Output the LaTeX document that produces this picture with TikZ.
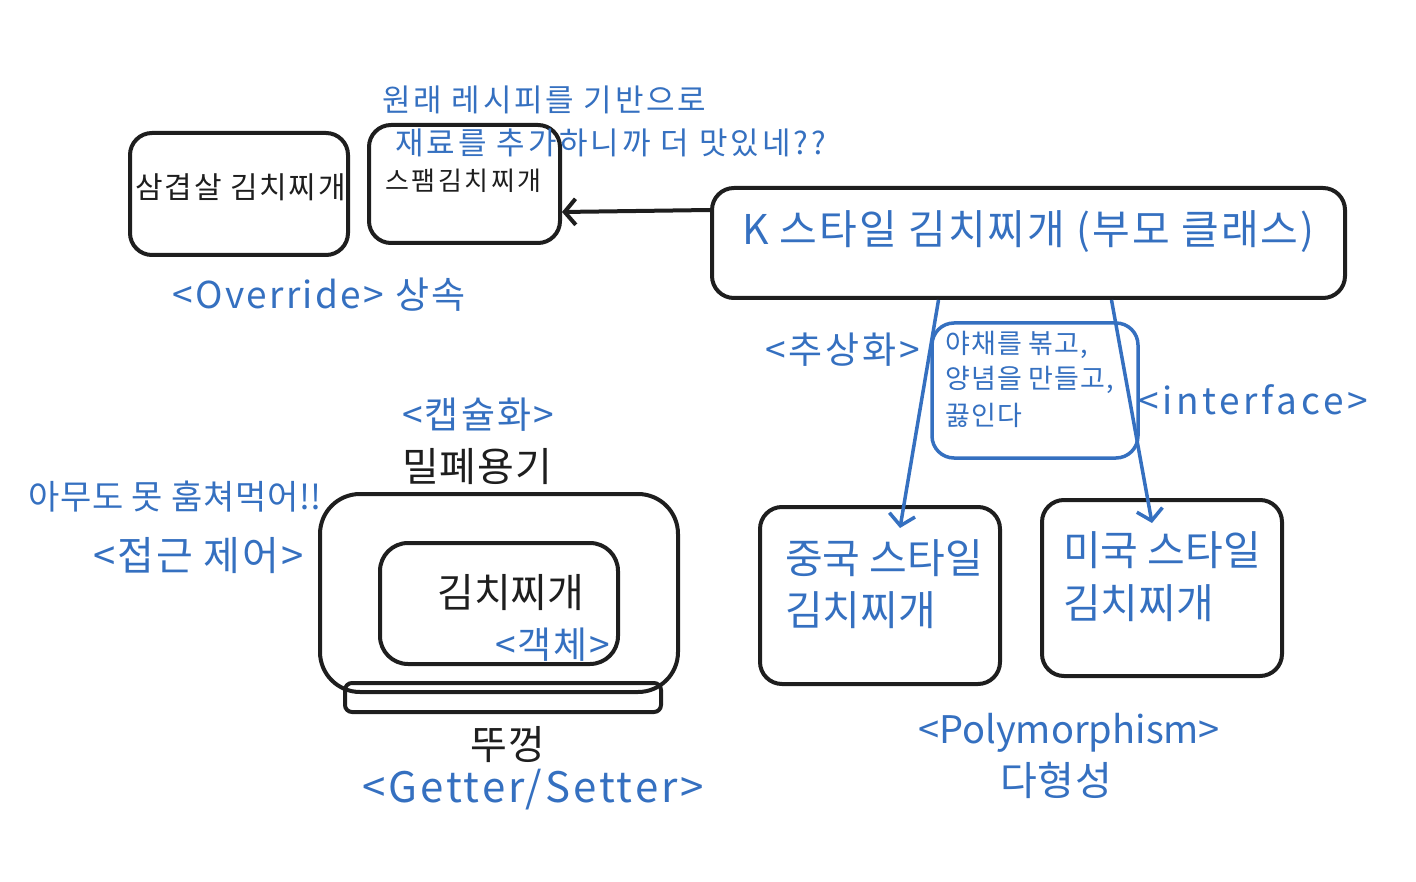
\documentclass[tikz,border=0pt]{standalone}
\usepackage{fontspec}
\setmainfont{Noto Sans CJK KR}
\usetikzlibrary{arrows.meta}
\definecolor{ink}{RGB}{30,30,30}
\definecolor{blu}{RGB}{53,112,192}
\begin{document}
\begin{tikzpicture}[x=1pt,y=-1pt,
 box/.style={draw=ink, line width=4pt, rounded corners=22pt, inner sep=0},
 bbox/.style={draw=blu, line width=3.5pt, rounded corners=22pt, inner sep=0},
 lbl/.style={inner sep=0, anchor=west, text=blu},
 blk/.style={inner sep=0, anchor=west, text=ink},
 fs/.style 2 args={font=\fontsize{#1}{#1}\selectfont\addfontfeature{LetterSpace=#2}},
 barb/.style={-{Straight Barb[length=11pt,width=26pt]}}]
\useasboundingbox (0,0) rectangle (1416,882);
% boxes
\node[box, minimum width=218pt, minimum height=122pt] (sam) at (239,194) {};
\node[box, minimum width=191pt, minimum height=118pt] (spam) at (464.5,184) {};
\node[box, minimum width=633pt, minimum height=110pt] (kbox) at (1028.5,243) {};
\node[bbox, minimum width=206pt, minimum height=135pt] (proc) at (1035,390.5) {};
\node[box, minimum width=240pt, minimum height=177pt] (cn) at (880,595.5) {};
\node[box, minimum width=240pt, minimum height=176pt] (mi) at (1162,588) {};
\node[box, minimum width=358pt, minimum height=198pt, rounded corners=40pt] (outer) at (499,593) {};
\node[box, minimum width=238pt, minimum height=121pt, rounded corners=28pt] (inner) at (499,603.5) {};
\node[box, minimum width=316pt, minimum height=29pt, rounded corners=7pt] (lid) at (503,697.5) {};
% connectors
\draw[ink, line width=4pt, barb] ([yshift=33pt]kbox.west) -- ([yshift=-28pt]spam.east);
\draw[blu, line width=3.5pt, barb] ([xshift=-90pt]kbox.south) -- ([xshift=20pt,yshift=-23pt]cn.north);
\draw[blu, line width=3.5pt, barb] ([xshift=83pt]kbox.south) -- ([xshift=-10pt,yshift=-25pt]mi.north);
% texts
\node[blk, fs={30}{6}] (t1) at (135,187) {삼겹살 김치찌개};
\node[blk, fs={26}{10}] (t2) at (385,181) {스팸김치찌개};
\node[lbl, fs={31}{9}] (t3) at (382,100) {원래 레시피를 기반으로};
\node[lbl, fs={31}{9.5}] (t4) at (395,143) {재료를 추가하니까 더 맛있네??};
\node[lbl, fs={41}{5}] (t5) at (742,232) {K 스타일 김치찌개 (부모 클래스)};
\node[lbl, fs={37}{6.5}] (t6) at (172,295) {<Override> 상속};
\node[lbl, fs={37}{8}] (t7) at (765,350) {<추상화>};
\node[lbl, fs={27}{4}] (t8) at (945,345) {야채를 볶고,};
\node[lbl, fs={27}{4}] (t9) at (945,380) {양념을 만들고,};
\node[lbl, fs={27}{4}] (t10) at (945,415) {끓인다};
\node[lbl, fs={37}{10}] (t11) at (1138,400) {<interface>};
\node[lbl, fs={41}{0}] (t12) at (785,558) {중국 스타일};
\node[lbl, fs={41}{0}] (t13) at (785,610) {김치찌개};
\node[lbl, fs={41}{0}] (t14) at (1063,550) {미국 스타일};
\node[lbl, fs={41}{0}] (t15) at (1063,603) {김치찌개};
\node[lbl, fs={38}{0}] (t16) at (918,733) {<Polymorphism>};
\node[lbl, fs={40}{2}] (t17) at (1000,780) {다형성};
\node[lbl, fs={37}{6}] (t18) at (402,415) {<캡슐화>};
\node[blk, fs={40}{2}] (t19) at (402,467) {밀폐용기};
\node[lbl, fs={34}{2}] (t20) at (28,497) {아무도 못 훔쳐먹어!!};
\node[lbl, fs={40}{5}] (t21) at (93,556) {<접근 제어>};
\node[blk, fs={40}{0}] (t22) at (437,593) {김치찌개};
\node[lbl, fs={37}{5}] (t23) at (495,645) {<객체>};
\node[blk, fs={40}{3}] (t24) at (470,745) {뚜껑};
\node[lbl, fs={42}{7}] (t25) at (362,790) {<Getter/Setter>};
\end{tikzpicture}
\end{document}
